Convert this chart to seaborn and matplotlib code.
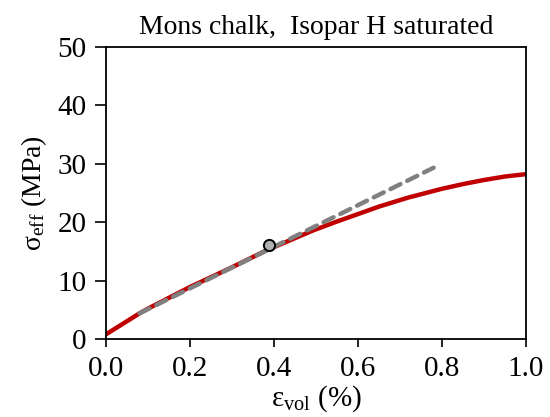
import matplotlib
matplotlib.use("Agg")
import matplotlib.pyplot as plt
import seaborn as sns
import pandas as pd

# red measured curve (vol. strain %, effective stress MPa)
strain = [0.0, 0.04, 0.08, 0.10, 0.20, 0.295, 0.383, 0.494, 0.55, 0.652,
          0.72, 0.80, 0.85, 0.90, 0.95, 1.0]
stress = [0.8, 2.6, 4.4, 5.2, 8.9, 12.1, 15.2, 18.6, 20.1, 22.7,
          24.2, 25.7, 26.5, 27.2, 27.8, 28.2]

# dashed linear fit
fit_strain = [0.08, 0.78]
fit_stress = [4.4, 29.3]

# yield point
yield_strain = [0.388]
yield_stress = [16.1]

sns.set_style("ticks")
plt.rcParams["font.family"] = ["Liberation Serif", "DejaVu Serif"]
plt.rcParams["mathtext.fontset"] = "custom"
plt.rcParams["mathtext.rm"] = "Liberation Serif"
plt.rcParams["mathtext.it"] = "Liberation Serif:italic"
plt.rcParams["text.color"] = "black"
plt.rcParams["axes.labelcolor"] = "black"
plt.rcParams["xtick.color"] = "black"
plt.rcParams["ytick.color"] = "black"

curve = pd.DataFrame({"strain": strain, "stress": stress})
fit = pd.DataFrame({"strain": fit_strain, "stress": fit_stress})
pt = pd.DataFrame({"strain": yield_strain, "stress": yield_stress})

fig = plt.figure(figsize=(5.5, 4.17), dpi=100)
ax = fig.add_axes([0.1927, 0.187, 0.7637, 0.701])

sns.lineplot(data=curve, x="strain", y="stress", ax=ax, color="#C00000",
             linewidth=3.2, estimator=None, sort=False)
ax.lines[-1].set_solid_joinstyle("round")
sns.scatterplot(data=pt, x="strain", y="stress", ax=ax, color="#B0B0B0",
                edgecolor="black", linewidth=1.4, s=65, zorder=5)
sns.lineplot(data=fit, x="strain", y="stress", ax=ax, color="#808080",
             linewidth=3.2, estimator=None)
fit_line = ax.lines[-1]
fit_line.set_linestyle((0, (2.5, 1.7)))
fit_line.set_dash_capstyle("round")
fit_line.set_zorder(3)

ax.set_xlim(0, 1.0)
ax.set_ylim(0, 50)
ax.set_xticks([0.0, 0.2, 0.4, 0.6, 0.8, 1.0])
ax.set_xticklabels(["0.0", "0.2", "0.4", "0.6", "0.8", "1.0"])
ax.set_yticks([0, 10, 20, 30, 40, 50])
ax.tick_params(axis="both", direction="out", length=6, width=1.2,
               labelsize=21, pad=6)
ax.tick_params(axis="y", length=8)
for s in ax.spines.values():
    s.set_visible(True)
    s.set_color("black")
    s.set_linewidth(1.3)

ax.set_xlabel(r"ε$_{\mathrm{vol}}$ (%)", fontsize=21, labelpad=1)
ax.set_ylabel(r"σ$_{\mathrm{eff}}$ (MPa)", fontsize=20, labelpad=6)
ax.set_title("Mons chalk,  Isopar H saturated", fontsize=20, pad=9)

fig.savefig("out.png", dpi=100)
